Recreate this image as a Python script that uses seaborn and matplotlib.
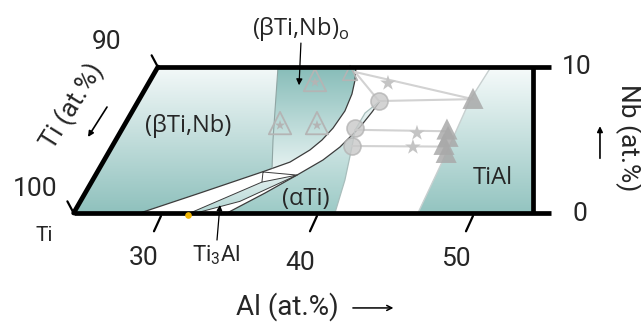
import numpy as np
import matplotlib
matplotlib.use("Agg")
import matplotlib.pyplot as plt
import seaborn as sns
from matplotlib.patches import Polygon
from matplotlib.colors import LinearSegmentedColormap

# ---- composition data (Al at.% along the base, Nb at.% upward) ----
frame_al = [24.4, 29.8, 53.85, 53.85]
frame_nb = [0.0, 10.0, 10.0, 0.0]
frame_end_al = 55.0

# (βTi,Nb) / two-phase boundary, bottom to top
beta_edge_al = [28.65, 32.50, 36.67, 38.27, 39.55, 40.32, 41.03, 41.79, 42.24, 42.44, 42.50]
beta_edge_nb = [0.00, 1.37, 2.88, 3.49, 4.32, 5.00, 5.82, 6.99, 8.15, 9.11, 10.00]

# (βTi,Nb) / (βTi,Nb)o boundary, top to bottom
betao_edge_al = [37.50, 37.31, 37.18, 37.12]
betao_edge_nb = [10.00, 7.05, 5.00, 3.08]

# (αTi) boundaries
alpha_left_al = [34.23, 36.67, 38.72, 40.38, 41.47, 42.76, 43.53, 44.04]
alpha_left_nb = [0.00, 1.37, 2.60, 3.63, 4.52, 5.89, 6.92, 7.67]
alpha_right_al = [41.15, 41.79, 42.24, 42.44, 43.08, 44.04]
alpha_right_nb = [0.00, 2.26, 4.52, 5.68, 6.85, 7.67]

# Ti3Al lens
lens_upper_al = [31.86, 34.10, 36.47]
lens_upper_nb = [0.00, 1.03, 2.12]
lens_lower_al = [32.24, 35.06, 38.72]
lens_lower_nb = [0.00, 0.80, 2.60]
lens_tie_al = [36.54, 38.72, 36.47, 36.54]
lens_tie_nb = [2.81, 2.60, 2.12, 2.81]

# TiAl boundary
tial_edge_al = [46.47, 48.08, 49.81, 51.15]
tial_edge_nb = [0.00, 3.63, 7.74, 10.00]

# experimental alloys
open_tri_al = [39.87, 37.63, 40.00]
open_tri_nb = [9.11, 6.16, 6.16]
small_tri_al = [42.12]
small_tri_nb = [9.59]
circle_al = [43.97, 42.44, 42.24]
circle_nb = [7.67, 5.82, 4.59]
star_al = [44.55, 46.41, 46.15]
star_nb = [8.90, 5.48, 4.52]
solid_tri_al = [50.00, 48.33, 48.40, 48.14, 48.28]
solid_tri_nb = [7.85, 5.75, 5.25, 4.70, 4.15]

# tie lines
tie1_al = [42.44, 43.97, 50.00, 42.44]
tie1_nb = [9.66, 7.67, 7.80, 9.66]
tie2_al = [42.44, 48.33]
tie2_nb = [5.70, 5.60]
tie3_al = [42.24, 48.14]
tie3_nb = [4.59, 4.55]

al_ticks = [30, 40, 50]
al_tick_labels = ["30", "40", "50"]
nb_tick_labels = ["0", "10"]
ti_tick_labels = ["100", "90"]

TEAL = "#93c4c0"

sns.set_theme(style="white")
plt.rcParams["font.family"] = ["Roboto", "DejaVu Sans"]

fig = plt.figure(figsize=(6.41, 3.24), dpi=100)
ax = fig.add_axes([0, 0, 1, 1])
ax.axis("off")


def grad_fill(xs, ys, c_bottom, c_top, z, y0=None, y1=None):
    pts = np.column_stack([xs, ys])
    poly = Polygon(pts, closed=True, facecolor="none", edgecolor="none")
    ax.add_patch(poly)
    cmap = LinearSegmentedColormap.from_list("g", [c_bottom, c_top])
    g = np.linspace(0, 1, 256).reshape(-1, 1)
    y0 = min(ys) if y0 is None else y0
    y1 = max(ys) if y1 is None else y1
    im = ax.imshow(g, cmap=cmap, origin="lower", aspect="auto",
                   extent=(min(xs), max(xs), y0, y1), zorder=z,
                   interpolation="bilinear")
    im.set_clip_path(poly)


def solid_fill(xs, ys, color, z):
    ax.add_patch(Polygon(np.column_stack([xs, ys]), closed=True,
                         facecolor=color, edgecolor="none", zorder=z))


# (βTi,Nb) field covers the whole section first
grad_fill(frame_al, frame_nb, "#8fc1bd", "#f4f9f9", 1)

# two-phase white band
white_al = beta_edge_al + tial_edge_al[::-1]
white_nb = beta_edge_nb + tial_edge_nb[::-1]
solid_fill(white_al, white_nb, "white", 2)

# (βTi,Nb)o field
sel = [i for i, a in enumerate(beta_edge_al) if a > betao_edge_al[-1]]
bo_al = betao_edge_al + [beta_edge_al[i] for i in sel]
bo_nb = betao_edge_nb + [beta_edge_nb[i] for i in sel]
grad_fill(bo_al, bo_nb, "#e4f1f0", "#86bcb8", 3)

# (αTi) field
a_al = alpha_left_al + alpha_right_al[::-1]
a_nb = alpha_left_nb + alpha_right_nb[::-1]
grad_fill(a_al, a_nb, "#9ccac6", "#eef6f6", 3)

# Ti3Al lens
l_al = lens_upper_al + lens_lower_al[::-1]
l_nb = lens_upper_nb + lens_lower_nb[::-1]
grad_fill(l_al, l_nb, "#b3d7d4", "#e3f0ef", 3)

# TiAl field
t_al = tial_edge_al + [frame_al[2], frame_al[3]]
t_nb = tial_edge_nb + [frame_nb[2], frame_nb[3]]
grad_fill(t_al, t_nb, "#93c4c0", "#f7fbfb", 3)

# phase boundaries
dark = "#3c3c3c"
for xs, ys, c, w in [
    (beta_edge_al, beta_edge_nb, dark, 0.9),
    (alpha_left_al, alpha_left_nb, dark, 0.9),
    (lens_upper_al, lens_upper_nb, dark, 0.7),
    (lens_lower_al, lens_lower_nb, dark, 0.7),
    (lens_tie_al, lens_tie_nb, dark, 0.7),
    (betao_edge_al, betao_edge_nb, "#8fa5a3", 0.8),
    (alpha_right_al, alpha_right_nb, "#a8bebc", 0.9),
    (tial_edge_al, tial_edge_nb, "#c8d0d0", 1.0),
]:
    sns.lineplot(x=xs, y=ys, sort=False, estimator=None, color=c,
                 lw=w, ax=ax, zorder=5)

# tie lines
for xs, ys in [(tie1_al, tie1_nb), (tie2_al, tie2_nb), (tie3_al, tie3_nb)]:
    sns.lineplot(x=xs, y=ys, sort=False, estimator=None, color="#d2d2d2",
                 lw=1.5, ax=ax, zorder=6)

gray = "#b4b4b4"
sns.scatterplot(x=open_tri_al, y=open_tri_nb, marker="^", s=260,
                facecolor="none", edgecolor=gray, linewidth=1.3, ax=ax, zorder=7)
sns.scatterplot(x=open_tri_al, y=[v - 0.15 for v in open_tri_nb], marker="*",
                s=60, color=gray, edgecolor="none", ax=ax, zorder=7)
sns.scatterplot(x=small_tri_al, y=small_tri_nb, marker="^", s=110,
                facecolor="none", edgecolor=gray, linewidth=1.2, ax=ax, zorder=7)
sns.scatterplot(x=circle_al, y=circle_nb, marker="o", s=150,
                facecolor="#c9c9c9", edgecolor=gray, linewidth=1.2,
                alpha=0.8, ax=ax, zorder=7)
sns.scatterplot(x=star_al, y=star_nb, marker="*", s=140, color="#c4c4c4",
                edgecolor="none", ax=ax, zorder=7)
sns.scatterplot(x=solid_tri_al, y=solid_tri_nb, marker="^", s=230,
                color="#a9a9a9", edgecolor="none", alpha=0.85, ax=ax, zorder=7)

# section frame
k = dict(color="black", lw=3.4, solid_capstyle="butt", zorder=10)
ax.plot([frame_al[0], frame_al[1]], [frame_nb[0], frame_nb[1]],
        solid_capstyle="round", color="black", lw=3.4, zorder=10)
ax.plot([frame_al[1], frame_end_al], [10, 10], **k)
ax.plot([frame_al[0], frame_end_al], [0, 0], **k)
ax.plot([frame_al[2], frame_al[3]], [10, 0], **k)

# slanted ticks
for a in al_ticks:
    ax.plot([a, a - 0.45], [-0.2, -1.25], color="black", lw=1.6, zorder=10)
for (a, n) in [(frame_al[0], 0), (frame_al[1], 10)]:
    ax.plot([a, a - 0.4], [n, n + 0.8], color="black", lw=1.6, zorder=10)

ax.scatter([31.73], [-0.15], s=14, color="#f2b705", zorder=11)

num = dict(fontsize=19, ha="center", va="center", family=["Roboto", "DejaVu Sans"])
for a, lab, y in zip(al_ticks, al_tick_labels, [-3.08, -3.42, -3.15]):
    ax.text(a - 1.1, y, lab, **num)
ax.text(56.35, -0.05, nb_tick_labels[0], ha="left", va="center", fontsize=19)
ax.text(55.7, 10.0, nb_tick_labels[1], ha="left", va="center", fontsize=19)
ax.text(21.92, 1.64, ti_tick_labels[0], **num)
ax.text(26.54, 11.71, ti_tick_labels[1], **num)
ax.text(22.5, -1.51, "Ti", ha="center", va="center", fontsize=15)

ax.text(38.08, -6.44, "Al (at.%)", ha="center", va="center", fontsize=20)
ax.annotate("", xy=(44.9, -6.5), xytext=(42.3, -6.5),
            arrowprops=dict(arrowstyle="->", lw=1.1, color="black",
                            shrinkA=0, shrinkB=0, mutation_scale=9))
ax.text(59.94, 5.14, "Nb (at.%)", rotation=270, ha="center", va="center",
        fontsize=19)
ax.annotate("", xy=(58.14, 5.95), xytext=(58.14, 3.75),
            arrowprops=dict(arrowstyle="-|>", lw=1.2, color="black",
                            shrinkA=0, shrinkB=0, mutation_scale=8))
ax.text(24.29, 7.33, "Ti (at.%)", rotation=58, ha="center", va="center",
        fontsize=19, rotation_mode="anchor")
ax.annotate("", xy=(25.32, 5.21), xytext=(26.54, 7.26),
            arrowprops=dict(arrowstyle="-|>", lw=1.2, color="black",
                            shrinkA=0, shrinkB=0, mutation_scale=8))

lab = dict(ha="center", va="center", fontsize=17,
           family=["Open Sans", "DejaVu Sans"], zorder=12)
ax.text(31.73, 5.96, "(βTi,Nb)", **lab)
ax.text(39.29, 0.96, "(αTi)", **lab)
ax.text(51.28, 2.40, "TiAl", **lab)
ax.text(38.95, 12.6, r"(βTi,Nb)$_{\mathregular{o}}$", **lab)
ax.annotate("", xy=(38.85, 8.75), xytext=(38.97, 11.64),
            arrowprops=dict(arrowstyle="-|>", lw=0.9, color="black",
                            shrinkA=0, shrinkB=0, mutation_scale=9), zorder=12)
ax.text(33.53, -2.88, r"Ti$_{\mathregular{3}}$Al", ha="center", va="center",
        fontsize=16)
ax.annotate("", xy=(33.78, 0.55), xytext=(33.59, -1.85),
            arrowprops=dict(arrowstyle="-|>", lw=0.9, color="black",
                            shrinkA=0, shrinkB=0, mutation_scale=8), zorder=12)

ax.set_xlim(19.68, 60.77)
ax.set_ylim(-7.60, 14.59)
fig.savefig("out.png", dpi=100)
